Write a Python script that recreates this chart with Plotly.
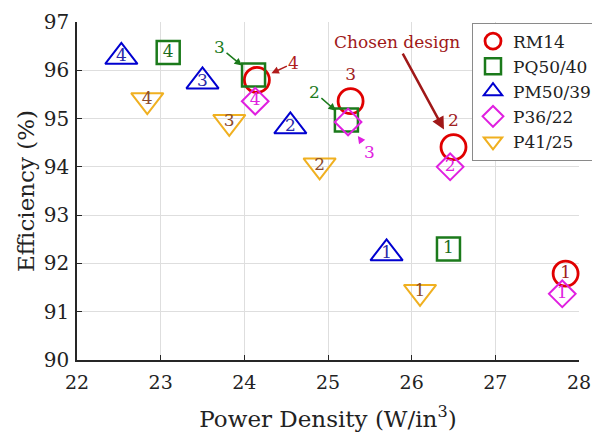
import plotly.graph_objects as go

# ---------------- data ----------------
labels = ["1", "2", "3", "4"]

rm14_x = [27.84, 26.50, 25.27, 24.15]
rm14_y = [91.79, 94.41, 95.36, 95.80]

pq_x = [26.44, 25.22, 24.11, 23.09]
pq_y = [92.30, 94.97, 95.90, 96.37]

pm_x = [25.70, 24.55, 23.50, 22.53]
pm_y = [92.21, 94.84, 95.77, 96.28]

p36_x = [27.80, 26.46, 25.24, 24.13]
p36_y = [91.37, 94.00, 94.93, 95.36]

p41_x = [26.10, 24.90, 23.82, 22.84]
p41_y = [91.41, 94.03, 94.93, 95.38]

x_ticks = [22, 23, 24, 25, 26, 27, 28]
y_ticks = [90, 91, 92, 93, 94, 95, 96, 97]

FONT = "DejaVu Serif"
W, H = 584, 424  # page body adds an 8px margin around the figure

fig = go.Figure()

def add_series(name, xs, ys, symbol, size, edge, lw, txt, txtpos, txtcolor):
    fig.add_trace(go.Scatter(
        x=xs, y=ys, name=name, mode="markers+text",
        text=txt, textposition=txtpos,
        textfont=dict(family=FONT, size=17, color=txtcolor),
        marker=dict(symbol=symbol, size=size, color="rgba(255,255,255,0)",
                    line=dict(color=edge, width=lw)),
        cliponaxis=False,
    ))

add_series("RM14", rm14_x, rm14_y, "circle", 25, "#E00000", 2.8,
           ["1", "2", "3", ""],
           ["middle center", "top center", "top center", "middle center"], "#A02020")
add_series("PQ50/40", pq_x, pq_y, "square", 23, "#1B7A1B", 2.5,
           ["1", "", "", "4"], "middle center", "#1B6B1B")
add_series("PM50/39", pm_x, pm_y, "triangle-up", 28, "#0000D0", 2.0,
           labels, "middle center", "#2A2AA8")
add_series("P36/22", p36_x, p36_y, "diamond", 20.5, "#E020E0", 2.0,
           ["1", "2", "", "4"], "middle center", "#E020E0")
add_series("P41/25", p41_x, p41_y, "triangle-down", 28, "#F0B020", 2.0,
           labels, "middle center", "#8B4A2B")

# ---------------- annotations ----------------
def arrow_note(x, y, text, ax, ay, color, size=17, width=1.5, standoff=15, headsize=1.0):
    fig.add_annotation(x=x, y=y, xref="x", yref="y", text=text,
                       showarrow=True, ax=ax, ay=ay, axref="pixel", ayref="pixel",
                       arrowhead=2, arrowsize=headsize, arrowwidth=width,
                       arrowcolor=color, standoff=standoff,
                       font=dict(family=FONT, size=size, color=color))

arrow_note(rm14_x[1], rm14_y[1], "Chosen design", -57, -105, "#A01818",
           size=17, width=2.5, standoff=20, headsize=1.0)
arrow_note(rm14_x[3], rm14_y[3], "4", 37, -17, "#B01C1C", standoff=16)
arrow_note(pq_x[2], pq_y[2], "3", -34, -28, "#1B7A1B", standoff=15)
arrow_note(pq_x[1], pq_y[1], "2", -32, -28, "#1B7A1B", standoff=14)
arrow_note(p36_x[2], p36_y[2], "3", 21, 30, "#E020E0", standoff=17)

fig.update_layout(
    width=W, height=H,
    margin=dict(l=69, r=13, t=14, b=72, autoexpand=False),
    paper_bgcolor="white", plot_bgcolor="white",
    font=dict(family=FONT, color="#222222"),
    showlegend=True,
    legend=dict(x=464 / W, y=1 - 14.5 / H, xref="container", yref="container",
                xanchor="left", yanchor="top",
                bgcolor="white", bordercolor="#8a8a8a", borderwidth=1,
                font=dict(family=FONT, size=17, color="#222222"),
                tracegroupgap=0, itemsizing="trace"),
)

fig.update_xaxes(range=[22, 28], tickvals=x_ticks, ticktext=[str(v) for v in x_ticks],
                 showgrid=True, gridcolor="#DEDEDE", gridwidth=1,
                 showline=True, linecolor="#262626", linewidth=1.5,
                 ticks="inside", ticklen=5, tickcolor="#262626",
                 ticklabelstandoff=4, ticklabeloverflow="allow",
                 tickfont=dict(family=FONT, size=19, color="#222222"),
                 title=dict(text="Power Density (W/in<sup>3</sup>)",
                            font=dict(family=FONT, size=23, color="#222222"), standoff=22),
                 zeroline=False, automargin=False)
fig.update_yaxes(range=[90, 97], tickvals=y_ticks, ticktext=[str(v) for v in y_ticks],
                 showgrid=True, gridcolor="#DEDEDE", gridwidth=1,
                 showline=True, linecolor="#262626", linewidth=1.5,
                 ticks="inside", ticklen=5, tickcolor="#262626",
                 ticklabelstandoff=2, ticklabeloverflow="allow",
                 tickfont=dict(family=FONT, size=20, color="#222222"),
                 title=dict(text="Efficiency (%)",
                            font=dict(family=FONT, size=23, color="#222222"), standoff=3),
                 zeroline=False, automargin=False)

fig.write_html("out.html")
